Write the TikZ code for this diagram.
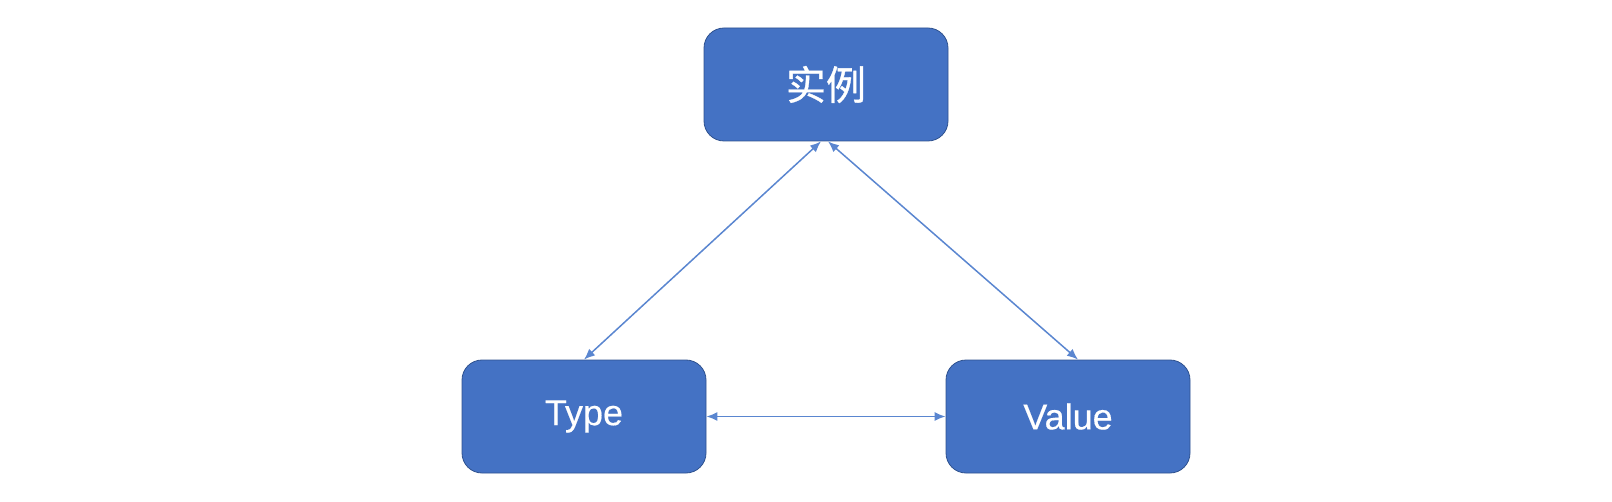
\documentclass[tikz,border=0pt]{standalone}
\usepackage{fontspec}
\setmainfont{Liberation Sans}[FakeBold=0.4]
\newfontfamily\cjk{Noto Sans CJK SC}[FakeBold=0.8]
\usetikzlibrary{arrows.meta}

\definecolor{boxblue}{HTML}{4472C4}
\definecolor{boxedge}{HTML}{2F528F}
\definecolor{linkblue}{HTML}{5A86D0}

\begin{document}
\begin{tikzpicture}[x=0.5pt, y=-0.5pt,
  entity/.style={draw=boxedge, line width=0.4pt, fill=boxblue, rounded corners=10pt,
                 minimum width=122pt, minimum height=56.5pt, text=white,
                 font=\fontsize{18}{20}\selectfont},
  link/.style={draw=linkblue, line width=0.75pt,
               {Latex[length=5.5pt,width=4.5pt]}-{Latex[length=5.5pt,width=4.5pt]}}]
\useasboundingbox (0,0) rectangle (1612,502);

\node[entity] (inst)  at (826,84.5)   {\cjk\fontsize{20}{22}\selectfont 实例};
\node[entity] (type)  at (584,416.5)  {Type};
\node[entity] (value) at (1068,416.5) {Value};

% links between the three boxes
\draw[link] ([xshift=-2.5pt]inst.south) -- (type.north);
\draw[link] ([xshift=1pt]inst.south) -- ([xshift=5pt]value.north);
\draw[link] (type.east) -- (value.west);
\end{tikzpicture}
\end{document}
